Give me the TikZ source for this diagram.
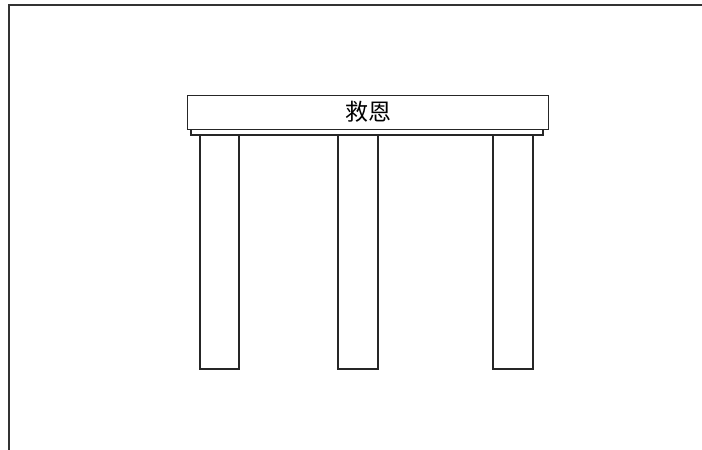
\documentclass[tikz,border=0pt]{standalone}
\usepackage{fontspec}
\newfontfamily\cjk{Noto Sans CJK SC}
\begin{document}
\begin{tikzpicture}[x=1pt,y=-1pt,
  part/.style={draw=black!85,line width=1.1pt,fill=white},
  frame/.style={draw=black!80,line width=1.4pt}]
\useasboundingbox (0,0) rectangle (702,450);
\draw[frame] (9,450) -- (9,5) -- (702,5);
\draw[part] (191,126) rectangle (543,135);
\node[part,minimum width=361pt,minimum height=34pt,inner sep=0pt,anchor=north west,
  font=\cjk\fontsize{23}{23}\selectfont] (top) at (187,94.5) {救恩};
\draw[part] (200,135) rectangle (239,369);
\draw[part] (338,135) rectangle (378,369);
\draw[part] (493,135) rectangle (533,369);
\end{tikzpicture}
\end{document}
